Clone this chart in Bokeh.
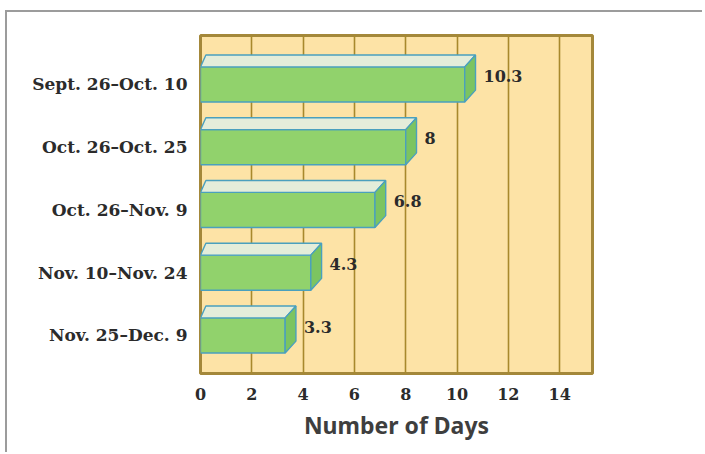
from bokeh.plotting import figure
from bokeh.models import Range1d, FixedTicker
from bokeh.core.properties import value
from bokeh.embed import file_html
from bokeh.resources import INLINE

categories = ["Sept. 26\u2013Oct. 10", "Oct. 26\u2013Oct. 25", "Oct. 26\u2013Nov. 9",
              "Nov. 10\u2013Nov. 24", "Nov. 25\u2013Dec. 9"]
days = [10.3, 8, 6.8, 4.3, 3.3]
x_ticks = [0, 2, 4, 6, 8, 10, 12, 14]

n = len(categories)
ypos = [n - 1 - i for i in range(n)]  # top to bottom

BAR_H = 0.56
DX = 0.42   # depth in x (data units)
DY = 0.19   # depth in y (data units)

W, H = 697, 442
p = figure(width=W, height=H, output_backend="svg", toolbar_location=None,
           x_range=Range1d(0, 15.28), y_range=Range1d(-0.606, 4.78),
           min_border_left=193, min_border_right=W - 585,
           min_border_top=23, min_border_bottom=H - 361)
p.styles = {"border-top": "2px solid #9c9c9c", "border-left": "2px solid #9c9c9c",
            "margin-left": "5px", "margin-top": "10px"}

p.background_fill_color = "#FDE3A6"
p.border_fill_color = "white"
p.outline_line_color = "#A4883A"
p.outline_line_width = 3

p.ygrid.grid_line_color = None
p.xgrid.ticker = FixedTicker(ticks=x_ticks)
p.xgrid.grid_line_color = "#A8892C"
p.xgrid.grid_line_width = 1.6

# bars: front face
tops = [y + BAR_H / 2 for y in ypos]
bots = [y - BAR_H / 2 for y in ypos]
line_col = "#4AA0BE"
p.quad(left=[0] * n, right=days, bottom=bots, top=tops,
       fill_color="#91D26C", line_color=line_col, line_width=1.4)
# top face
top_xs = [[0, d, d + DX, DX * 0.5] for d in days]
top_ys = [[t, t, t + DY, t + DY] for t in tops]
p.patches(top_xs, top_ys, fill_color="#E4EDDA", line_color=line_col, line_width=1.4)
# side face
side_xs = [[d, d + DX, d + DX, d] for d in days]
side_ys = [[b, b + DY, t + DY, t] for b, t in zip(bots, tops)]
p.patches(side_xs, side_ys, fill_color="#7CC460", line_color=line_col, line_width=1.4)

# value labels
p.text(x=[d + DX for d in days], y=[y + 0.14 for y in ypos], text=[f"{d:g}" for d in days],
       x_offset=8, text_baseline="middle", text_align="left",
       text_font=value("DejaVu Serif"), text_font_style="bold",
       text_font_size="16px", text_color="#2b2b2b")

# axes
p.xaxis.ticker = FixedTicker(ticks=x_ticks)
p.xaxis.axis_line_color = None
p.xaxis.major_tick_line_color = None
p.xaxis.minor_tick_line_color = None
p.xaxis.major_label_standoff = 8
p.xaxis.major_label_text_font = "DejaVu Serif"
p.xaxis.major_label_text_font_style = "bold"
p.xaxis.major_label_text_font_size = "16px"
p.xaxis.major_label_text_color = "#2b2b2b"
p.xaxis.axis_label = "Number of Days"
p.xaxis.axis_label_text_font = "Noto Sans"
p.xaxis.axis_label_text_font_style = "bold"
p.xaxis.axis_label_text_font_size = "23px"
p.xaxis.axis_label_text_color = "#3e3e3e"
p.xaxis.axis_label_standoff = 6

p.yaxis.ticker = FixedTicker(ticks=ypos)
p.yaxis.major_label_overrides = {y: c for y, c in zip(ypos, categories)}
p.yaxis.axis_line_color = None
p.yaxis.major_tick_line_color = None
p.yaxis.minor_tick_line_color = None
p.yaxis.major_label_standoff = 7
p.yaxis.major_label_text_font = "DejaVu Serif"
p.yaxis.major_label_text_font_style = "bold"
p.yaxis.major_label_text_font_size = "17px"
p.yaxis.major_label_text_color = "#2b2b2b"

open("out.html", "w").write(file_html(p, INLINE))
